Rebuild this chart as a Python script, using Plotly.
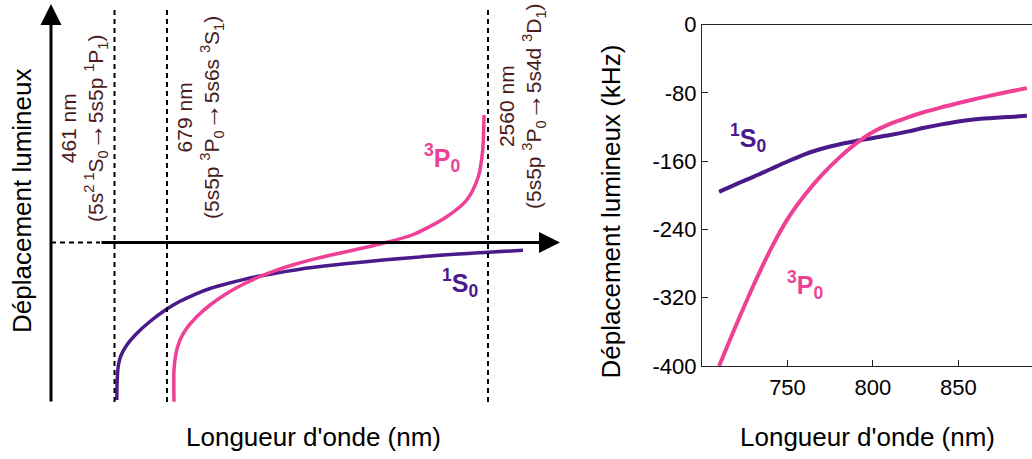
import plotly.graph_objects as go

# ---------------- right panel data (measured) ----------------
wl = [710, 720, 730, 740, 750, 760, 770, 780, 790, 800, 810, 820, 830, 840, 850, 860, 870, 880, 890]
s0_shift = [-196, -187, -178.5, -169.5, -160.5, -152, -145.5, -140.5, -136.5, -133, -129.5, -125.5, -121,
            -117, -113.5, -111, -109.5, -108.2, -107]
p0_shift = [-400, -352, -306, -264, -228, -200, -176.5, -156.5, -139.5, -126, -116.5, -109, -102.5, -97,
            -92, -87.2, -82.7, -78.5, -74.5]
ytick_vals = [0, -80, -160, -240, -320, -400]
ytick_text = ["0", "-80", "-160", "-240", "-320", "-400"]
xtick_vals = [750, 800, 850]

# ---------------- left panel schematic (arbitrary units) ----------------
sch_s0_x = [116.8, 117.3, 118.5, 121, 126.5, 136.7, 150, 165, 180, 195, 210, 226.7, 243.3, 260, 276.7,
            293.3, 310, 345, 383, 447, 523]
sch_s0_y = [-157.5, -135, -122, -113, -103, -91, -79, -67.8, -58.8, -51.8, -46, -41.2, -37.1, -33.5,
            -30.5, -27.8, -25.3, -21.3, -17.6, -12.3, -7.8]
sch_p0_x = [174, 174, 176, 180, 186.7, 196.7, 210, 226.7, 243.3, 260, 276.7, 293.3, 310, 330, 355, 380,
            413.3, 446.7, 466.7, 478.3, 482.7, 484]
sch_p0_y = [-159.2, -127.5, -110.8, -97.5, -85.8, -74.2, -62.5, -51, -41.8, -34, -27.6, -22.2, -17.6,
            -12.8, -7.3, -1.5, 8, 25.8, 42.5, 65.8, 92.5, 127.5]
resonance_x = [114.5, 167, 488]
ARROW = '<span style="font-size:27px">→</span>'
resonance_labels = [
    "461 nm<br>(5s<sup>2 1</sup>S<sub>0</sub>" + ARROW + "5s5p <sup>1</sup>P<sub>1</sub>)",
    "679 nm<br>(5s5p <sup>3</sup>P<sub>0</sub>" + ARROW + "5s6s <sup>3</sup>S<sub>1</sub>)",
    "2560 nm<br>(5s5p <sup>3</sup>P<sub>0</sub>" + ARROW + "5s4d <sup>3</sup>D<sub>1</sub>)",
]
resonance_label_pos = [(84, 114.5), (200, 124.5), (522, 136.5)]

PURPLE = "#4B1A8A"
PINK = "#EE4196"
MAROON = "#4A1C1C"
FONT = "Arial, Liberation Sans, sans-serif"

fig = go.Figure()

# right panel
fig.add_trace(go.Scatter(x=wl, y=s0_shift, mode="lines", line=dict(color=PURPLE, width=4, shape="spline"),
                         xaxis="x", yaxis="y", showlegend=False))
fig.add_trace(go.Scatter(x=wl, y=p0_shift, mode="lines", line=dict(color=PINK, width=4, shape="spline"),
                         xaxis="x", yaxis="y", showlegend=False))

# left panel
fig.add_trace(go.Scatter(x=sch_s0_x, y=sch_s0_y, mode="lines",
                         line=dict(color=PURPLE, width=3.5, shape="spline", smoothing=0.8),
                         xaxis="x2", yaxis="y2", showlegend=False))
fig.add_trace(go.Scatter(x=sch_p0_x, y=sch_p0_y, mode="lines",
                         line=dict(color=PINK, width=3.5, shape="spline", smoothing=0.8),
                         xaxis="x2", yaxis="y2", showlegend=False))

W, H = 1032, 459
shapes = []
for rx in resonance_x:
    shapes.append(dict(type="line", xref="x2", yref="y2", x0=rx, x1=rx, y0=-159.5, y1=235.5,
                       line=dict(color="black", width=2, dash="5px,4px")))
shapes.append(dict(type="line", xref="x2", yref="y2", x0=51, x1=100, y0=0, y1=0,
                   line=dict(color="black", width=2, dash="5px,4px")))

annotations = []
# axis arrows
annotations.append(dict(xref="x2", yref="y2", axref="x2", ayref="y2", x=560, y=0, ax=100, ay=0,
                        text="", showarrow=True, arrowhead=2, arrowsize=1.4, arrowwidth=3,
                        arrowcolor="black"))
annotations.append(dict(xref="x2", yref="y2", axref="x2", ayref="y2", x=51, y=238.5, ax=51, ay=-160.5,
                        text="", showarrow=True, arrowhead=2, arrowsize=1.4, arrowwidth=3,
                        arrowcolor="black"))
for (px, py), txt in zip(resonance_label_pos, resonance_labels):
    annotations.append(dict(xref="x2", yref="y2", x=px, y=py, text=txt, showarrow=False, textangle=-90,
                            xanchor="center", yanchor="middle",
                            font=dict(family=FONT, size=21, color=MAROON), align="center"))
# curve labels
lab = dict(showarrow=False, xanchor="center", yanchor="middle")
annotations.append(dict(xref="x2", yref="y2", x=442, y=84.5, text="<b><sup>3</sup>P<sub>0</sub></b>",
                        font=dict(family=FONT, size=25, color=PINK), **lab))
annotations.append(dict(xref="x2", yref="y2", x=460, y=-40.5, text="<b><sup>1</sup>S<sub>0</sub></b>",
                        font=dict(family=FONT, size=25, color=PURPLE), **lab))
annotations.append(dict(xref="x", yref="y", x=727, y=-132.5, text="<b><sup>1</sup>S<sub>0</sub></b>",
                        font=dict(family=FONT, size=25, color=PURPLE), **lab))
annotations.append(dict(xref="x", yref="y", x=760, y=-305, text="<b><sup>3</sup>P<sub>0</sub></b>",
                        font=dict(family=FONT, size=25, color=PINK), **lab))
# titles
tfont = dict(family=FONT, size=26, color="black")
annotations.append(dict(xref="paper", yref="paper", x=22 / W, y=1 - 201 / H, text="Déplacement lumineux",
                        textangle=-90, font=tfont, **lab))
annotations.append(dict(xref="paper", yref="paper", x=313 / W, y=1 - 437 / H, text="Longueur d'onde (nm)",
                        font=tfont, **lab))
annotations.append(dict(xref="paper", yref="paper", x=611 / W, y=1 - 211.5 / H,
                        text="Déplacement lumineux (kHz)", textangle=-90, font=tfont, **lab))
annotations.append(dict(xref="paper", yref="paper", x=867.5 / W, y=1 - 437 / H, text="Longueur d'onde (nm)",
                        font=tfont, **lab))

fig.update_layout(
    width=W, height=H, autosize=False,
    margin=dict(l=0, r=0, t=0, b=0, pad=0, autoexpand=False),
    paper_bgcolor="white", plot_bgcolor="white",
    showlegend=False,
    font=dict(family=FONT, color="black"),
    xaxis=dict(domain=[702 / W, 1.0], range=[700, 893], tickvals=xtick_vals, ticks="inside", ticklen=6,
               tickcolor="#222", showline=True, linecolor="#222", linewidth=1.3, mirror=True,
               showgrid=False, zeroline=False, tickfont=dict(size=22, color="black"),
               ticklabelstandoff=1, anchor="y", automargin=False),
    yaxis=dict(domain=[93 / H, 434.5 / H], range=[-400, 0], tickvals=ytick_vals, ticktext=ytick_text,
               ticks="inside", ticklen=6,
               tickcolor="#222", showline=True, linecolor="#222", linewidth=1.3, mirror=False,
               showgrid=False, zeroline=False, tickfont=dict(size=22, color="black"),
               anchor="x", automargin=False),
    xaxis2=dict(domain=[0, 600 / W], range=[0, 600], visible=False, anchor="y2"),
    yaxis2=dict(domain=[0, 1], range=[242.5 - H, 242.5], visible=False, anchor="x2"),
    shapes=shapes,
    annotations=annotations,
)

fig.write_html("out.html", config={"displayModeBar": False},
               post_script="document.body.style.margin='0';document.body.style.overflow='hidden';")
